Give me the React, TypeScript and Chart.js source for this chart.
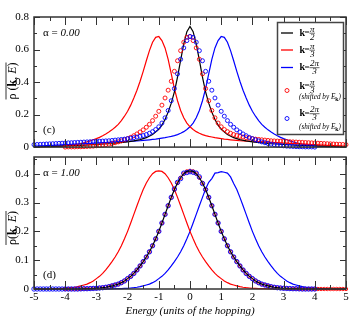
import React, { useEffect, useRef } from "react";
import { Chart, registerables } from "chart.js";
Chart.register(...registerables);

const SERIF = "'Liberation Serif', 'DejaVu Serif', serif";

// Energy grid: E = -5 + 0.1 * i  (i = 0..100)
const E_START = -5;
const E_STEP = 0.1;

// Shifts E_k used for the open-circle series ("shifted by E_k")
const SHIFT_PI3 = 1;
const SHIFT_2PI3 = -1;

// ---------- Panel (c): alpha = 0.00 ----------
const TOP_RED = [
  0.000, 0.001, 0.001, 0.001, 0.002, 0.002, 0.003, 0.004, 0.005, 0.006,
  0.008, 0.010, 0.012, 0.015, 0.018, 0.022, 0.027, 0.032, 0.038, 0.045,
  0.052, 0.060, 0.070, 0.081, 0.093, 0.106, 0.122, 0.140, 0.163, 0.190,
  0.220, 0.258, 0.302, 0.350, 0.405, 0.466, 0.531, 0.593, 0.645, 0.675,
  0.680, 0.655, 0.610, 0.540, 0.450, 0.360, 0.285, 0.225, 0.180, 0.148,
  0.125, 0.108, 0.095, 0.085, 0.077, 0.071, 0.066, 0.062, 0.058, 0.055,
  0.052, 0.049, 0.047, 0.045, 0.043, 0.041, 0.039, 0.038, 0.037, 0.036,
  0.035, 0.034, 0.033, 0.032, 0.031, 0.030, 0.029, 0.028, 0.027, 0.026,
  0.025, 0.024, 0.023, 0.022, 0.021, 0.020, 0.019, 0.018, 0.017, 0.016,
  0.015, 0.014, 0.013, 0.012, 0.011, 0.010, 0.009, 0.008, 0.007, 0.006,
  0.005,
];
const TOP_BLUE = [
  0.005, 0.006, 0.007, 0.008, 0.009, 0.010, 0.011, 0.012, 0.013, 0.014,
  0.015, 0.016, 0.017, 0.018, 0.019, 0.020, 0.021, 0.022, 0.023, 0.024,
  0.025, 0.026, 0.027, 0.028, 0.029, 0.030, 0.031, 0.032, 0.033, 0.034,
  0.035, 0.036, 0.037, 0.038, 0.039, 0.041, 0.043, 0.045, 0.047, 0.049,
  0.052, 0.055, 0.058, 0.062, 0.066, 0.071, 0.077, 0.085, 0.095, 0.108,
  0.125, 0.148, 0.180, 0.225, 0.285, 0.360, 0.450, 0.540, 0.610, 0.655,
  0.680, 0.675, 0.645, 0.593, 0.531, 0.466, 0.405, 0.350, 0.302, 0.258,
  0.220, 0.190, 0.163, 0.140, 0.122, 0.106, 0.093, 0.081, 0.070, 0.060,
  0.052, 0.045, 0.038, 0.032, 0.027, 0.022, 0.018, 0.015, 0.012, 0.010,
  0.008, 0.006, 0.005, 0.004, 0.003, 0.002, 0.002, 0.001, 0.001, 0.001,
  0.000,
];
const TOP_BLACK_E = [
  -5, -4.5, -4, -3.5, -3, -2.5, -2, -1.8, -1.6, -1.4, -1.2, -1, -0.9, -0.8, -0.7,
  -0.6, -0.5, -0.4, -0.3, -0.2, -0.1, 0, 0.1, 0.2, 0.3, 0.4, 0.5, 0.6, 0.7, 0.8,
  0.9, 1, 1.2, 1.4, 1.6, 1.8, 2, 2.5, 3, 3.5, 4, 4.5, 5,
];
const TOP_BLACK = [
  0.003, 0.005, 0.008, 0.011, 0.016, 0.022, 0.032, 0.038, 0.046, 0.058, 0.078, 0.11, 0.135, 0.17, 0.215,
  0.27, 0.34, 0.43, 0.535, 0.635, 0.71, 0.742, 0.71, 0.635, 0.535, 0.43, 0.34, 0.27, 0.215, 0.17,
  0.135, 0.11, 0.078, 0.058, 0.046, 0.038, 0.032, 0.022, 0.016, 0.011, 0.008, 0.005, 0.003,
];

// ---------- Panel (d): alpha = 1.00 ----------
const BOT_BLACK = [
  0, 0, 0, 0, 0, 0, 0, 0, 0, 0,
  0, 0, 0, 0, 0, 0.0005, 0.001, 0.001, 0.0015, 0.002,
  0.0025, 0.0035, 0.0045, 0.006, 0.008, 0.011, 0.014, 0.017, 0.022, 0.028,
  0.036, 0.044, 0.054, 0.066, 0.080, 0.095, 0.111, 0.129, 0.150, 0.174,
  0.200, 0.229, 0.259, 0.289, 0.318, 0.345, 0.368, 0.386, 0.400, 0.408,
  0.410,
  0.408, 0.400, 0.386, 0.368, 0.345, 0.318, 0.289, 0.259, 0.229, 0.200,
  0.174, 0.150, 0.129, 0.111, 0.095, 0.080, 0.066, 0.054, 0.044, 0.036,
  0.028, 0.022, 0.017, 0.014, 0.011, 0.008, 0.006, 0.0045, 0.0035, 0.0025,
  0.002, 0.0015, 0.001, 0.001, 0.0005, 0, 0, 0, 0, 0,
  0, 0, 0, 0, 0, 0, 0, 0, 0, 0,
];
const BOT_RED = [
  0, 0, 0, 0, 0, 0.0005, 0.001, 0.001, 0.0015, 0.002,
  0.0025, 0.0035, 0.0045, 0.006, 0.008, 0.011, 0.014, 0.017, 0.022, 0.028,
  0.036, 0.044, 0.054, 0.066, 0.080, 0.095, 0.111, 0.129, 0.150, 0.174,
  0.200, 0.229, 0.259, 0.289, 0.318, 0.345, 0.368, 0.386, 0.400, 0.408,
  0.410,
  0.408, 0.400, 0.386, 0.368, 0.345, 0.318, 0.289, 0.259, 0.229, 0.200,
  0.174, 0.150, 0.129, 0.111, 0.095, 0.080, 0.066, 0.054, 0.044, 0.036,
  0.028, 0.022, 0.017, 0.014, 0.011, 0.008, 0.006, 0.0045, 0.0035, 0.0025,
  0.002, 0.0015, 0.001, 0.001, 0.0005, 0, 0, 0, 0, 0,
  0, 0, 0, 0, 0, 0, 0, 0, 0, 0,
  0, 0, 0, 0, 0, 0, 0, 0, 0, 0,
];
const BOT_BLUE = [
  0, 0, 0, 0, 0, 0, 0, 0, 0, 0,
  0, 0, 0, 0, 0, 0, 0, 0, 0, 0,
  0, 0, 0, 0, 0, 0.0005, 0.001, 0.001, 0.0015, 0.002,
  0.0025, 0.0035, 0.0045, 0.006, 0.008, 0.011, 0.014, 0.017, 0.022, 0.028,
  0.036, 0.044, 0.054, 0.066, 0.080, 0.095, 0.111, 0.129, 0.150, 0.174,
  0.200, 0.229, 0.259, 0.289, 0.318, 0.347, 0.370, 0.383, 0.402, 0.404,
  0.407,
  0.405, 0.402, 0.389, 0.366, 0.345, 0.318, 0.289, 0.259, 0.229, 0.200,
  0.174, 0.150, 0.129, 0.111, 0.095, 0.080, 0.066, 0.054, 0.044, 0.036,
  0.028, 0.022, 0.017, 0.014, 0.011, 0.008, 0.006, 0.0045, 0.0035, 0.0025,
  0.002, 0.0015, 0.001, 0.001, 0.0005, 0, 0, 0, 0, 0,
];

// Axis ticks
const X_MAJOR = [-5, -4, -3, -2, -1, 0, 1, 2, 3, 4, 5];
const X_MINOR = [-4.5, -3.5, -2.5, -1.5, -0.5, 0.5, 1.5, 2.5, 3.5, 4.5];
const TOP_Y_MAJOR = [0, 0.2, 0.4, 0.6, 0.8];
const TOP_Y_MINOR = [0.1, 0.3, 0.5, 0.7];
const BOT_Y_MAJOR = [0, 0.1, 0.2, 0.3, 0.4];
const BOT_Y_MINOR = [0.05, 0.15, 0.25, 0.35, 0.45];

const RED = "#ff0000";
const BLUE = "#0000ff";
const BLACK = "#000000";

const eAt = (i: number) => Math.round((E_START + i * E_STEP) * 1000) / 1000;
const gridPts = (vals: number[]) => vals.map((y, i) => ({ x: eAt(i), y }));
const shiftedPts = (vals: number[], shift: number) =>
  vals
    .map((y, i) => ({ x: Math.round((eAt(i) + shift) * 1000) / 1000, y }))
    .filter((p) => p.x >= -5 && p.x <= 5);
const xyPts = (xs: number[], ys: number[]) => xs.map((x, i) => ({ x, y: ys[i] }));

const lineDs = (data: any[], color: string) => ({
  data,
  showLine: true,
  borderColor: color,
  backgroundColor: color,
  borderWidth: 1.2,
  pointRadius: 0,
  tension: 0,
  clip: false,
});
const circleDs = (data: any[], color: string, r = 2) => ({
  data,
  showLine: false,
  pointStyle: "circle",
  pointRadius: r,
  pointBorderWidth: 0.9,
  pointBorderColor: color,
  pointBackgroundColor: "rgba(0,0,0,0)",
  borderColor: color,
  backgroundColor: "rgba(0,0,0,0)",
  clip: false,
});

type Seg = { t: string; f: string };
function drawSegs(ctx: CanvasRenderingContext2D, segs: Seg[], x: number, y: number) {
  let cx = x;
  for (const s of segs) {
    ctx.font = s.f;
    ctx.fillText(s.t, cx, y);
    cx += ctx.measureText(s.t).width;
  }
  return cx;
}
function segsWidth(ctx: CanvasRenderingContext2D, segs: Seg[]) {
  let w = 0;
  for (const s of segs) {
    ctx.font = s.f;
    w += ctx.measureText(s.t).width;
  }
  return w;
}

function drawFrac(ctx: CanvasRenderingContext2D, left: number, y: number, num: string, den: string) {
  ctx.font = `italic 9px ${SERIF}`;
  const w = Math.max(ctx.measureText(num).width, ctx.measureText(den).width) + 1;
  const cx = left + w / 2;
  ctx.textAlign = "center";
  ctx.textBaseline = "middle";
  ctx.fillText(num, cx, y - 3.8);
  ctx.fillText(den, cx, y + 4.2);
  ctx.beginPath();
  ctx.lineWidth = 0.6;
  ctx.strokeStyle = "#000";
  ctx.moveTo(cx - w / 2, y + 0.2);
  ctx.lineTo(cx + w / 2, y + 0.2);
  ctx.stroke();
  ctx.textAlign = "left";
}

function drawKLabel(ctx: CanvasRenderingContext2D, x: number, y: number, num: string, den: string) {
  ctx.fillStyle = "#000";
  ctx.textAlign = "left";
  ctx.textBaseline = "middle";
  ctx.font = `bold 10px ${SERIF}`;
  ctx.fillText("k", x, y);
  ctx.font = `9px ${SERIF}`;
  ctx.fillText("=", x + 5, y);
  drawFrac(ctx, x + 10, y, num, den);
}

function drawShifted(ctx: CanvasRenderingContext2D, x: number, y: number) {
  ctx.fillStyle = "#000";
  ctx.textAlign = "left";
  ctx.textBaseline = "middle";
  ctx.font = `italic 7.2px ${SERIF}`;
  let cx = x;
  const a = "(shifted by E";
  ctx.fillText(a, cx, y);
  cx += ctx.measureText(a).width;
  ctx.font = `bold 5.5px ${SERIF}`;
  ctx.fillText("k", cx, y + 2.3);
  cx += ctx.measureText("k").width;
  ctx.font = `italic 7.2px ${SERIF}`;
  ctx.fillText(")", cx, y);
}

function drawLegend(ctx: CanvasRenderingContext2D) {
  ctx.save();
  ctx.fillStyle = "#fff";
  ctx.fillRect(277.5, 22.5, 66, 112);
  ctx.strokeStyle = "#444";
  ctx.lineWidth = 1.5;
  ctx.strokeRect(277.5, 22.5, 66, 112);
  const lines: [number, string, string, string][] = [
    [33, BLACK, "\u03c0", "2"],
    [50, RED, "\u03c0", "3"],
    [67.5, BLUE, "2\u03c0", "3"],
  ];
  for (const [y, c, n, d] of lines) {
    ctx.strokeStyle = c;
    ctx.lineWidth = 1.3;
    ctx.beginPath();
    ctx.moveTo(281, y);
    ctx.lineTo(293, y);
    ctx.stroke();
    drawKLabel(ctx, 299.5, y, n, d);
  }
  const circles: [number, number, number, string, string, string][] = [
    [90.5, 86, 97.5, RED, "\u03c0", "3"],
    [118.5, 113.5, 127.5, BLUE, "2\u03c0", "3"],
  ];
  for (const [cy, ky, sy, c, n, d] of circles) {
    ctx.strokeStyle = c;
    ctx.lineWidth = 0.9;
    ctx.beginPath();
    ctx.arc(287, cy, 2, 0, Math.PI * 2);
    ctx.stroke();
    drawKLabel(ctx, 299.5, ky, n, d);
    drawShifted(ctx, 299, sy);
  }
  ctx.restore();
}

type PanelOpts = {
  yMajor: number[];
  yMinor: number[];
  offsetY: number;
  alphaVal: string;
  alphaY: number;
  tag: string;
  tagY: number;
  title: Seg[];
  titleY: number;
  legend: boolean;
};

function panelPlugin(o: PanelOpts) {
  return {
    id: "panelDecor",
    afterDatasetsDraw(chart: any) {
      const ctx: CanvasRenderingContext2D = chart.ctx;
      const a = chart.chartArea;
      const xs = chart.scales.x;
      const ys = chart.scales.y;
      ctx.save();
      ctx.strokeStyle = "#333";
      ctx.lineWidth = 1;
      ctx.beginPath();
      const xt = (v: number, len: number) => {
        const px = Math.round(xs.getPixelForValue(v)) + 0.5;
        ctx.moveTo(px, a.bottom);
        ctx.lineTo(px, a.bottom - len);
        ctx.moveTo(px, a.top);
        ctx.lineTo(px, a.top + len);
      };
      const yt = (v: number, len: number) => {
        const py = Math.round(ys.getPixelForValue(v)) + 0.5;
        ctx.moveTo(a.left, py);
        ctx.lineTo(a.left + len, py);
        ctx.moveTo(a.right, py);
        ctx.lineTo(a.right - len, py);
      };
      X_MAJOR.forEach((v) => xt(v, 8));
      X_MINOR.forEach((v) => xt(v, 4));
      o.yMajor.forEach((v) => yt(v, 6));
      o.yMinor.forEach((v) => yt(v, 3));
      ctx.stroke();
      ctx.lineWidth = 1.5;
      ctx.strokeStyle = "#333";
      ctx.strokeRect(a.left, a.top, a.right - a.left, a.bottom - a.top);

      ctx.fillStyle = "#000";
      ctx.textAlign = "left";
      ctx.textBaseline = "middle";
      drawSegs(
        ctx,
        [
          { t: "\u03b1 = ", f: `11px ${SERIF}` },
          { t: o.alphaVal, f: `italic 11px ${SERIF}` },
        ],
        43,
        o.alphaY - o.offsetY
      );
      ctx.font = `11px ${SERIF}`;
      ctx.fillText(o.tag, 43, o.tagY - o.offsetY);

      const cy = o.titleY - o.offsetY;
      ctx.save();
      ctx.translate(12.5, cy);
      ctx.rotate(-Math.PI / 2);
      const w = segsWidth(ctx, o.title);
      ctx.textBaseline = "middle";
      drawSegs(ctx, o.title, -w / 2, 0);
      ctx.beginPath();
      ctx.lineWidth = 0.8;
      ctx.strokeStyle = "#000";
      ctx.moveTo(-w / 2, -6.5);
      ctx.lineTo(w / 2, -6.5);
      ctx.stroke();
      ctx.restore();

      if (o.legend) drawLegend(ctx);
      ctx.restore();
    },
  };
}

const yScale = (max: number, major: number[]) => ({
  type: "linear",
  min: 0,
  max,
  afterBuildTicks: (s: any) => {
    s.ticks = major.map((v) => ({ value: v }));
  },
  afterFit: (s: any) => {
    s.width = 34;
    s.paddingTop = 0;
    s.paddingBottom = 0;
  },
  ticks: {
    color: "#000",
    padding: 5,
    font: { family: SERIF, size: 11 },
    callback: (v: number) => String(v),
  },
  grid: { display: false, drawTicks: false },
  border: { display: false },
});

function topConfig(): any {
  return {
    type: "scatter",
    data: {
      datasets: [
        circleDs(shiftedPts(TOP_BLUE, SHIFT_2PI3), BLUE),
        circleDs(shiftedPts(TOP_RED, SHIFT_PI3), RED),
        lineDs(xyPts(TOP_BLACK_E, TOP_BLACK), BLACK),
        lineDs(gridPts(TOP_RED), RED),
        lineDs(gridPts(TOP_BLUE), BLUE),
      ],
    },
    options: {
      animation: false,
      responsive: false,
      devicePixelRatio: 1,
      layout: { padding: { top: 17, right: 8, bottom: 4, left: 0 } },
      plugins: { legend: { display: false }, tooltip: { enabled: false } },
      scales: {
        x: { type: "linear", min: -5, max: 5, display: false },
        y: yScale(0.8, TOP_Y_MAJOR),
      },
    },
    plugins: [
      panelPlugin({
        yMajor: TOP_Y_MAJOR,
        yMinor: TOP_Y_MINOR,
        offsetY: 0,
        alphaVal: "0.00",
        alphaY: 33,
        tag: "(c)",
        tagY: 130,
        title: [
          { t: "\u03c1 (", f: `12px ${SERIF}` },
          { t: "k", f: `bold 12px ${SERIF}` },
          { t: ", ", f: `12px ${SERIF}` },
          { t: "E", f: `italic 12px ${SERIF}` },
          { t: ")", f: `12px ${SERIF}` },
        ],
        titleY: 81,
        legend: true,
      }),
    ],
  };
}

function botConfig(): any {
  return {
    type: "scatter",
    data: {
      datasets: [
        lineDs(gridPts(BOT_BLACK), BLACK),
        circleDs(shiftedPts(BOT_BLUE, SHIFT_2PI3), BLUE, 2.2),
        circleDs(shiftedPts(BOT_RED, SHIFT_PI3), RED, 1.7),
        lineDs(gridPts(BOT_RED), RED),
        lineDs(gridPts(BOT_BLUE), BLUE),
      ],
    },
    options: {
      animation: false,
      responsive: false,
      devicePixelRatio: 1,
      layout: { padding: { top: 5, right: 8, bottom: 0, left: 0 } },
      plugins: { legend: { display: false }, tooltip: { enabled: false } },
      scales: {
        x: {
          type: "linear",
          min: -5,
          max: 5,
          afterBuildTicks: (s: any) => {
            s.ticks = X_MAJOR.map((v) => ({ value: v }));
          },
          afterFit: (s: any) => {
            s.height = 29;
            s.paddingLeft = 0;
            s.paddingRight = 0;
          },
          ticks: {
            color: "#000",
            padding: 2,
            maxRotation: 0,
            autoSkip: false,
            font: { family: SERIF, size: 11 },
            callback: (v: number) => String(v),
          },
          grid: { display: false, drawTicks: false },
          border: { display: false },
          title: {
            display: true,
            text: "Energy (units of the hopping)",
            color: "#000",
            font: { family: SERIF, size: 11, style: "italic" },
            padding: { top: 0, bottom: 0 },
          },
        },
        y: yScale(0.458, BOT_Y_MAJOR),
      },
    },
    plugins: [
      panelPlugin({
        yMajor: BOT_Y_MAJOR,
        yMinor: BOT_Y_MINOR,
        offsetY: 152,
        alphaVal: "1.00",
        alphaY: 173,
        tag: "(d)",
        tagY: 275,
        title: [
          { t: "\u03c1(", f: `12px ${SERIF}` },
          { t: "k", f: `bold 12px ${SERIF}` },
          { t: ", ", f: `12px ${SERIF}` },
          { t: "E", f: `italic 12px ${SERIF}` },
          { t: ")", f: `12px ${SERIF}` },
        ],
        titleY: 228,
        legend: false,
      }),
    ],
  };
}

export default function App() {
  const topRef = useRef<HTMLCanvasElement>(null);
  const botRef = useRef<HTMLCanvasElement>(null);
  useEffect(() => {
    document.body.style.margin = "0";
    const c1 = new Chart(topRef.current!, topConfig());
    const c2 = new Chart(botRef.current!, botConfig());
    return () => {
      c1.destroy();
      c2.destroy();
    };
  }, []);
  return (
    <div style={{ position: "relative", width: 354, height: 318, background: "#fff" }}>
      <canvas
        ref={topRef}
        width={354}
        height={152}
        style={{ position: "absolute", left: 0, top: 0, width: 354, height: 152 }}
      />
      <canvas
        ref={botRef}
        width={354}
        height={166}
        style={{ position: "absolute", left: 0, top: 152, width: 354, height: 166 }}
      />
    </div>
  );
}
